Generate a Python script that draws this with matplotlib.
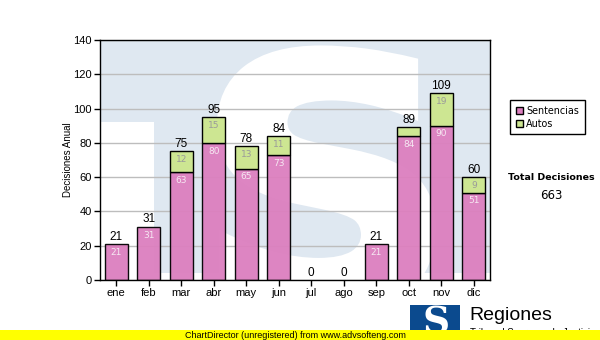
import matplotlib
matplotlib.use("Agg")
import matplotlib.pyplot as plt
from matplotlib.patches import Rectangle, PathPatch, Patch
from matplotlib.textpath import TextPath
from matplotlib.font_manager import FontProperties
from matplotlib.transforms import Affine2D
import numpy as np

meses = ["ene", "feb", "mar", "abr", "may", "jun", "jul", "ago", "sep", "oct", "nov", "dic"]
sentencias = [21, 31, 63, 80, 65, 73, 0, 0, 21, 84, 90, 51]
autos = [0, 0, 12, 15, 13, 11, 0, 0, 0, 5, 19, 9]

totales = [s + a for s, a in zip(sentencias, autos)]
total_decisiones = sum(totales)

rosa = "#dc7fbf"
verde = "#cde692"
arial = "Liberation Sans"

fig = plt.figure(figsize=(6, 3.4), dpi=100)
ax = fig.add_axes([100 / 600, 1 - 280 / 340, 390 / 600, 240 / 340])

# fondo con el logo en marca de agua
ax.set_facecolor("#dfe8f1")
letra = TextPath((0, 0), "S", size=100, prop=FontProperties(family="DejaVu Sans", weight="bold"))
ext = letra.get_extents()
x0, x1, y0, y1 = 0.31, 0.85, -0.12, 0.96
escala = Affine2D().translate(-ext.x0, -ext.y0).scale(
    (x1 - x0) / ext.width, (y1 - y0) / ext.height).translate(x0, y0)
ax.add_patch(PathPatch(escala.transform_path(letra), transform=ax.transAxes,
                       facecolor="white", edgecolor="white", linewidth=6, zorder=0.2))
ax.add_patch(Rectangle((0.003, 0.03), 0.135, 0.63, transform=ax.transAxes,
                       facecolor="white", edgecolor="none", zorder=0.2))
ax.add_patch(Rectangle((0.0, 0.0), 1.0, 0.03, transform=ax.transAxes,
                       facecolor="white", edgecolor="none", zorder=0.2))

x = np.arange(len(meses))
b1 = ax.bar(x, sentencias, width=0.7, color=rosa, alpha=0.95, edgecolor="black",
            linewidth=1, zorder=2)
b2 = ax.bar(x, autos, width=0.7, bottom=sentencias, color=verde, edgecolor="black",
            linewidth=1, zorder=2)
# meses sin datos no llevan borde
for i in range(len(meses)):
    if sentencias[i] == 0:
        b1[i].set_linewidth(0)
    if autos[i] == 0:
        b2[i].set_linewidth(0)

# etiquetas de valores
for i in range(len(meses)):
    if sentencias[i] >= 8:
        ax.text(x[i], sentencias[i] - 2.2, str(sentencias[i]), ha="center", va="top",
                fontsize=6.5, color="#f6e8f2", zorder=3)
    if autos[i] >= 8:
        ax.text(x[i], totales[i] - 2.2, str(autos[i]), ha="center", va="top",
                fontsize=6.5, color="#9a9a9a", zorder=3)
    ax.text(x[i], totales[i] + 0.8, str(totales[i]), ha="center", va="bottom",
            fontsize=8.5, fontfamily=arial, color="black", zorder=3)

ax.set_xlim(-0.5, 11.5)
ax.set_ylim(0, 140)
ax.set_yticks(range(0, 141, 20))
ax.set_xticks(x)
ax.set_xticklabels(meses)
ax.set_axisbelow(True)
ax.yaxis.grid(True, color="#bdbdbd", linewidth=1)
for lab in ax.get_xticklabels() + ax.get_yticklabels():
    lab.set_fontfamily(arial)
    lab.set_fontsize(8)
ax.tick_params(axis="both", length=4, width=1, color="black", pad=2)
for sp in ax.spines.values():
    sp.set_color("black")
    sp.set_linewidth(1)
ax.set_ylabel("Decisiones Anual", fontsize=7, fontfamily=arial, labelpad=0)

handles = [Patch(facecolor=rosa, edgecolor="black", label="Sentencias"),
           Patch(facecolor=verde, edgecolor="black", label="Autos")]
ax.legend(handles=handles, loc="upper left", bbox_to_anchor=(510 / 600, 1 - 100 / 340),
          bbox_transform=fig.transFigure, borderaxespad=0, fancybox=False,
          edgecolor="black", framealpha=1, fontsize=6.9, handlelength=0.75,
          handleheight=0.75, handletextpad=0.35, labelspacing=0.3, borderpad=0.6)

fig.text(551 / 600, 1 - 178 / 340, "Total Decisiones", ha="center", va="center",
         fontsize=6.8, fontweight="bold")
fig.text(551 / 600, 1 - 196 / 340, str(total_decisiones), ha="center", va="center",
         fontsize=8.5)

# logo inferior
fig.patches.append(Rectangle((410 / 600, 0), 50 / 600, 35 / 340, transform=fig.transFigure,
                             facecolor="#0b4a8e", edgecolor="none"))
fig.text(436 / 600, 17 / 340, "S", ha="center", va="center", fontsize=27,
         fontweight="bold", fontfamily="DejaVu Serif", color="white")
fig.text(469 / 600, 25 / 340, "Regiones", ha="left", va="center", fontsize=14,
         fontfamily=arial)
fig.text(470 / 600, 7 / 340, "Tribunal Supremo de Justicia", ha="left", va="center",
         fontsize=7, fontfamily=arial)

# franja amarilla
fig.patches.append(Rectangle((0, 0), 1, 10 / 340, transform=fig.transFigure,
                             facecolor="#ffff00", edgecolor="none", zorder=5))
fig.text(295 / 600, 5 / 340, "ChartDirector (unregistered) from www.advsofteng.com",
         ha="center", va="center", fontsize=6.5, fontfamily=arial, zorder=6)

fig.savefig("out.png", dpi=100)
